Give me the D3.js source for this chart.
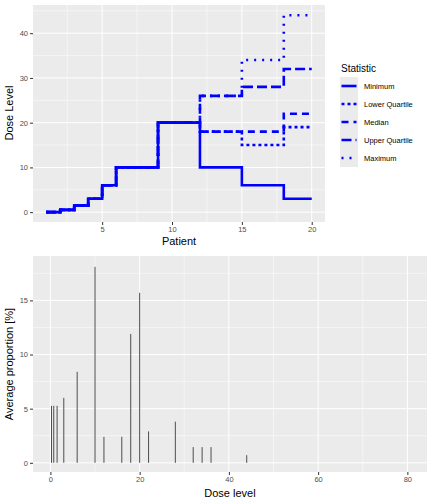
<!DOCTYPE html><html><head><script src="https://d3js.org/d3.v7.min.js"></script>
<style>body{margin:0;background:#fff}text{font-family:"Liberation Sans",Arial,sans-serif}</style></head><body>
<svg id="c" width="432" height="504"></svg>
<script>
const patients=d3.range(1,21);
const statNames=["Minimum","Lower Quartile","Median","Upper Quartile","Maximum"];
const minimum=[0,0.5,1.5,3,6,10,10,10,20,20,20,10,10,10,6,6,6,3,3,3];
const lowerQ=[0,0.5,1.5,3,6,10,10,10,20,20,20,18,18,18,15,15,15,19,19,19];
const median=[0,0.5,1.5,3,6,10,10,10,20,20,20,18,18,18,18,18,18,22,22,22];
const upperQ=[0,0.5,1.5,3,6,10,10,10,20,20,20,26,26,26,28,28,28,32,32,32];
const maximum=[0,0.5,1.5,3,6,10,10,10,20,20,20,26,26,26,34,34,34,44,44,44];
const series=[minimum,lowerQ,median,upperQ,maximum];
const dashes=[null,"3,3","7,5","10,4","2,6"];
const doses=[0.25,0.75,1.5,3,6,10,12,16,18,20,22,28,32,34,36,44];
const pct=[5.26,5.26,5.26,6.0,8.4,18.1,2.4,2.4,11.9,15.7,2.9,3.8,1.45,1.45,1.45,0.7];
const svg=d3.select("#c");
function panel(x0,x1,y0,y1,xs,ys,xt,yt,xminor,yminor){
  svg.append("rect").attr("x",x0).attr("y",y0).attr("width",x1-x0).attr("height",y1-y0).attr("fill","#ebebeb");
  xminor.forEach(v=>svg.append("line").attr("x1",xs(v)).attr("x2",xs(v)).attr("y1",y0).attr("y2",y1).attr("stroke","#fff").attr("stroke-width",0.5));
  yminor.forEach(v=>svg.append("line").attr("y1",ys(v)).attr("y2",ys(v)).attr("x1",x0).attr("x2",x1).attr("stroke","#fff").attr("stroke-width",0.5));
  xt.forEach(v=>svg.append("line").attr("x1",xs(v)).attr("x2",xs(v)).attr("y1",y0).attr("y2",y1).attr("stroke","#fff").attr("stroke-width",1));
  yt.forEach(v=>svg.append("line").attr("y1",ys(v)).attr("y2",ys(v)).attr("x1",x0).attr("x2",x1).attr("stroke","#fff").attr("stroke-width",1));
  const ax=svg.append("g").attr("transform",`translate(0,${y1})`).call(d3.axisBottom(xs).tickValues(xt).tickSize(3).tickPadding(2));
  const ay=svg.append("g").attr("transform",`translate(${x0},0)`).call(d3.axisLeft(ys).tickValues(yt).tickSize(3).tickPadding(2));
  [ax,ay].forEach(a=>{a.select(".domain").remove();a.selectAll("line").attr("stroke","#333");a.selectAll("text").attr("fill","#4d4d4d").attr("font-size",7.5);});
}
// top
const x1=d3.scaleLinear().domain([0.05,20.95]).range([33,325]);
const y1=d3.scaleLinear().domain([-2.2,46.3]).range([222,5]);
panel(33,325,5,222,x1,y1,[5,10,15,20],[0,10,20,30,40],[2.5,7.5,12.5,17.5],[5,15,25,35,45]);
const line=d3.line().x((d,i)=>x1(patients[i])).y(d=>y1(d)).curve(d3.curveStepAfter);
series.forEach((s,k)=>{svg.append("path").attr("d",line(s)).attr("fill","none").attr("stroke","#0000ff").attr("stroke-width",2.6).attr("stroke-dasharray",dashes[k]);});
svg.append("text").attr("x",179).attr("y",245).attr("text-anchor","middle").attr("font-size",11).text("Patient");
svg.append("text").attr("transform","translate(13,113) rotate(-90)").attr("text-anchor","middle").attr("font-size",11).text("Dose Level");
// legend
svg.append("text").attr("x",341).attr("y",72).attr("font-size",10).text("Statistic");
statNames.forEach((n,i)=>{const y=86+i*18;
  svg.append("rect").attr("x",340).attr("y",y-9).attr("width",18).attr("height",18).attr("fill","#ebebeb");
  svg.append("line").attr("x1",341.5).attr("x2",356.5).attr("y1",y).attr("y2",y).attr("stroke","#0000ff").attr("stroke-width",2.6).attr("stroke-dasharray",dashes[i]);
  svg.append("text").attr("x",364).attr("y",y+3).attr("font-size",7.5).text(n);});
// bottom
const x2=d3.scaleLinear().domain([-3.9,84.4]).range([33,427]);
const y2=d3.scaleLinear().domain([-0.85,19.1]).range([472,256]);
panel(33,427,256,472,x2,y2,[0,20,40,60,80],[0,5,10,15],[10,30,50,70],[2.5,7.5,12.5,17.5]);
doses.forEach((d,i)=>svg.append("line").attr("x1",x2(d)).attr("x2",x2(d)).attr("y1",y2(0)).attr("y2",y2(pct[i])).attr("stroke","#4d4d4d").attr("stroke-width",1));
svg.append("text").attr("x",230).attr("y",497).attr("text-anchor","middle").attr("font-size",11).text("Dose level");
svg.append("text").attr("transform","translate(13,364) rotate(-90)").attr("text-anchor","middle").attr("font-size",11).text("Average proportion [%]");
</script></body></html>
